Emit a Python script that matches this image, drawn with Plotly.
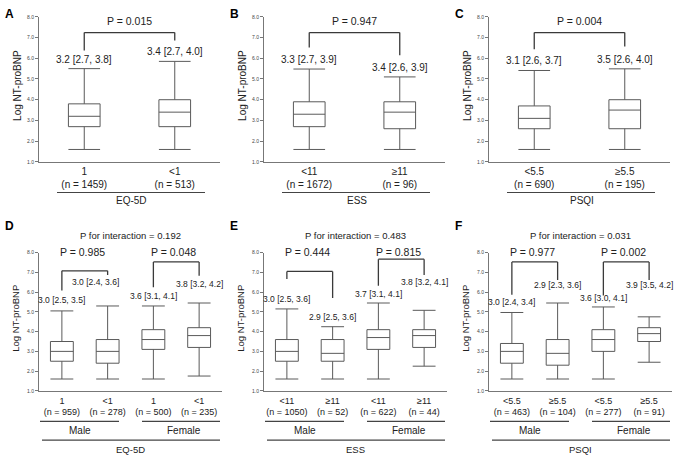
import plotly.graph_objects as go

# ---------------- data ----------------
panel_letters = ["A", "B", "C", "D", "E", "F"]
scale_names = ["EQ-5D", "ESS", "PSQI"]
levels = [["1", "&lt;1"], ["&lt;11", "≥11"], ["&lt;5.5", "≥5.5"]]
sex_groups = ["Male", "Female"]

top_n = [[1459, 513], [1672, 96], [690, 195]]
top_median = [[3.2, 3.4], [3.3, 3.4], [3.1, 3.5]]
top_q1 = [[2.7, 2.7], [2.7, 2.6], [2.6, 2.6]]
top_q3 = [[3.8, 4.0], [3.9, 3.9], [3.7, 4.0]]
top_upper = [[5.5, 5.85], [5.48, 5.1], [5.41, 5.49]]
top_lower = [[1.6, 1.6], [1.6, 1.6], [1.6, 1.6]]
top_p = ["0.015", "0.947", "0.004"]

bot_n = [[959, 278, 500, 235], [1050, 52, 622, 44], [463, 104, 277, 91]]
bot_median = [[3.0, 3.0, 3.6, 3.8], [3.0, 2.9, 3.7, 3.8], [3.0, 2.9, 3.6, 3.9]]
bot_q1 = [[2.5, 2.4, 3.1, 3.2], [2.5, 2.5, 3.1, 3.2], [2.4, 2.3, 3.0, 3.5]]
bot_q3 = [[3.5, 3.6, 4.1, 4.2], [3.6, 3.6, 4.1, 4.1], [3.4, 3.6, 4.1, 4.2]]
bot_upper = [[5.05, 5.3, 5.3, 5.45], [5.15, 4.25, 5.45, 5.08], [4.97, 5.45, 5.25, 4.75]]
bot_lower = [[1.6, 1.6, 1.6, 1.75], [1.6, 1.6, 1.6, 2.25], [1.6, 1.6, 1.6, 2.45]]
bot_p_male = ["0.985", "0.444", "0.977"]
bot_p_female = ["0.048", "0.815", "0.002"]
bot_p_int = ["0.192", "0.483", "0.031"]

y_ticks = [1, 2, 3, 4, 5, 6, 7, 8]

# ---------------- layout geometry (pixels -> paper) ----------------
W, H = 675, 458
FONT = "Liberation Sans, Arial, sans-serif"
BOX_C = "#5a5a5a"
BR_C = "#3a3a3a"
TXT_C = "#222222"


def px(x):
    return x / W


def py(y):
    return 1 - y / H


# bottom-row y axis: value 1 at pixel 393, 20 px per unit
def bot_val_to_paper(v):
    return py(393 - (v - 1) * 20)


# bracket geometry (data units): [left arm bottom, top, right arm bottom]
top_brackets = [[6.38, 7.24, 6.86], [6.52, 7.24, 6.14], [6.43, 7.24, 6.57]]
top_label_y = [[5.95, 6.33], [5.95, 5.57], [5.9, 5.95]]
bot_brackets = [
    [[6.08, 7.08, 6.87], [6.25, 7.53, 6.83]],
    [[6.67, 7.05, 5.7], [6.33, 7.67, 6.87]],
    [[5.87, 7.53, 6.62], [5.83, 7.53, 6.62]],
]
bot_label_y = [[5.62, 6.53, 5.8, 6.42], [5.67, 4.75, 5.92, 6.53], [5.5, 6.38, 5.7, 6.38]]
bot_label_x = [[0, 0.74, 2, 3], [0, 1, 2, 3], [0, 1, 2, 3]]

fig = go.Figure()
shapes = []
annotations = []


def fmt(m, a, b):
    return f"{m:.1f} [{a:.1f}, {b:.1f}]"


def add_line(xref, yref, x0, y0, x1, y1, color=BR_C, width=1.3):
    shapes.append(dict(type="line", xref=xref, yref=yref, x0=x0, y0=y0, x1=x1, y1=y1,
                       line=dict(color=color, width=width)))


def add_text(xref, yref, x, y, text, size, **kw):
    d = dict(xref=xref, yref=yref, x=x, y=y, text=text, showarrow=False,
             font=dict(family=FONT, size=size, color=TXT_C), xanchor="center", yanchor="middle")
    d.update(kw)
    annotations.append(d)


axis_common_y = dict(range=[1, 8], tickvals=y_ticks, tickformat=".1f", ticks="outside", ticklen=3,
                     tickcolor="#777", tickwidth=1, tickfont=dict(family=FONT, size=5, color="#444"),
                     showline=True, linecolor="#777", linewidth=1, showgrid=False, zeroline=False,
                     fixedrange=True)
axis_common_x = dict(showline=True, linecolor="#777", linewidth=1, showgrid=False, zeroline=False,
                     ticks="", fixedrange=True)

# ---------------- top row ----------------
for i in range(3):
    k = i + 1
    off = 225 * i
    xa, ya = f"x{k}" if k > 1 else "x", f"y{k}" if k > 1 else "y"
    xaxis_name, yaxis_name = f"xaxis{k}" if k > 1 else "xaxis", f"yaxis{k}" if k > 1 else "yaxis"
    fig.add_trace(go.Box(
        x=[0, 1], q1=top_q1[i], median=top_median[i], q3=top_q3[i],
        lowerfence=top_lower[i], upperfence=top_upper[i],
        width=0.35, whiskerwidth=1, fillcolor="white", line=dict(color=BOX_C, width=1),
        boxpoints=False, showlegend=False, xaxis=xa, yaxis=ya))
    ticktext = [f"{levels[i][j]}<br>(n = {top_n[i][j]})" for j in range(2)]
    fig.update_layout(**{
        xaxis_name: dict(axis_common_x, domain=[px(39 + off), px(220 + off)], range=[-0.5, 1.5],
                         tickvals=[0, 1], ticktext=ticktext,
                         tickfont=dict(family=FONT, size=10, color=TXT_C), anchor=ya),
        yaxis_name: dict(axis_common_y, domain=[py(161), py(14)], anchor=xa),
    })
    # bracket
    l0, t, r0 = top_brackets[i]
    add_line(xa, ya, 0, l0, 0, t)
    add_line(xa, ya, 0, t, 1, t)
    add_line(xa, ya, 1, t, 1, r0)
    add_text(xa, ya, 0.5, 7.81, f"P = {top_p[i]}", 10.5)
    for j in range(2):
        add_text(xa, ya, j, top_label_y[i][j],
                 fmt(top_median[i][j], top_q1[i][j], top_q3[i][j]), 10)
    # underline and scale name
    add_line("paper", "paper", px(57 + off), py(192), px(205 + off), py(192), color="#444", width=1.2)
    add_text("paper", "paper", px(131.5 + off), py(200.5), scale_names[i], 10)
    # y title and letter
    add_text("paper", "paper", px(18 + off), py(84), "Log NT-proBNP", 10, textangle=-90)
    add_text("paper", "paper", px(3 + off), py(11), panel_letters[i], 12, xanchor="left",
             font=dict(family=FONT, size=12, color="#000", weight="bold"))

# ---------------- bottom row ----------------
for i in range(3):
    k = i + 4
    off = 225 * i
    xa, ya = f"x{k}", f"y{k}"
    fig.add_trace(go.Box(
        x=[0, 1, 2, 3], q1=bot_q1[i], median=bot_median[i], q3=bot_q3[i],
        lowerfence=bot_lower[i], upperfence=bot_upper[i],
        width=0.5, whiskerwidth=1, fillcolor="white", line=dict(color=BOX_C, width=1),
        boxpoints=False, showlegend=False, xaxis=xa, yaxis=ya))
    ticktext = [f"{levels[i][j % 2]}<br>(n = {bot_n[i][j]})" for j in range(4)]
    fig.update_layout(**{
        f"xaxis{k}": dict(axis_common_x, domain=[px(39 + off), px(222 + off)], range=[-0.5, 3.5],
                          tickvals=[0, 1, 2, 3], ticktext=ticktext, ticklabelstandoff=1,
                          tickfont=dict(family=FONT, size=9, color=TXT_C), anchor=ya),
        f"yaxis{k}": dict(axis_common_y, domain=[py(393), py(253)], anchor=xa),
    })
    for g, (a, b) in enumerate([(0, 1), (2, 3)]):
        l0, t, r0 = bot_brackets[i][g]
        add_line(xa, ya, a, l0, a, t)
        add_line(xa, ya, a, t, b, t)
        add_line(xa, ya, b, t, b, r0)
    add_text(xa, "paper", 0.44, bot_val_to_paper(8.05), f"P = {bot_p_male[i]}", 10.5)
    add_text(xa, "paper", 2.44, bot_val_to_paper(8.05), f"P = {bot_p_female[i]}", 10.5)
    add_text(xa, "paper", 1.49, bot_val_to_paper(8.88), f"P for interaction = {bot_p_int[i]}", 9.5)
    for j in range(4):
        add_text(xa, ya, bot_label_x[i][j], bot_label_y[i][j],
                 fmt(bot_median[i][j], bot_q1[i][j], bot_q3[i][j]), 8.5)
    # sex underlines
    add_line("paper", "paper", px(40 + off), py(424), px(119 + off), py(424), color="#444", width=1.2)
    add_line("paper", "paper", px(142 + off), py(424), px(220 + off), py(424), color="#444", width=1.2)
    add_text("paper", "paper", px(80 + off), py(433.5), sex_groups[0], 10)
    add_text("paper", "paper", px(184 + off), py(433.5), sex_groups[1], 10)
    add_line("paper", "paper", px(42 + off), py(443), px(220 + off), py(443), color="#444", width=1.2)
    add_text("paper", "paper", px(130 + off), py(452), scale_names[i], 9.5)
    add_text("paper", "paper", px(16 + off), py(320), "Log NT-proBNP", 9.5, textangle=-90)
    add_text("paper", "paper", px(3 + off), py(226), panel_letters[i + 3], 12, xanchor="left",
             font=dict(family=FONT, size=12, color="#000", weight="bold"))

fig.update_layout(
    width=W, height=H, margin=dict(l=0, r=0, t=0, b=0),
    paper_bgcolor="white", plot_bgcolor="white",
    shapes=shapes, annotations=annotations, showlegend=False,
    font=dict(family=FONT, color=TXT_C),
)
fig.write_html(
    "out.html",
    config={"displayModeBar": False},
    post_script="document.body.style.margin='0';document.body.style.padding='0';"
                "document.body.style.overflow='hidden';",
)
